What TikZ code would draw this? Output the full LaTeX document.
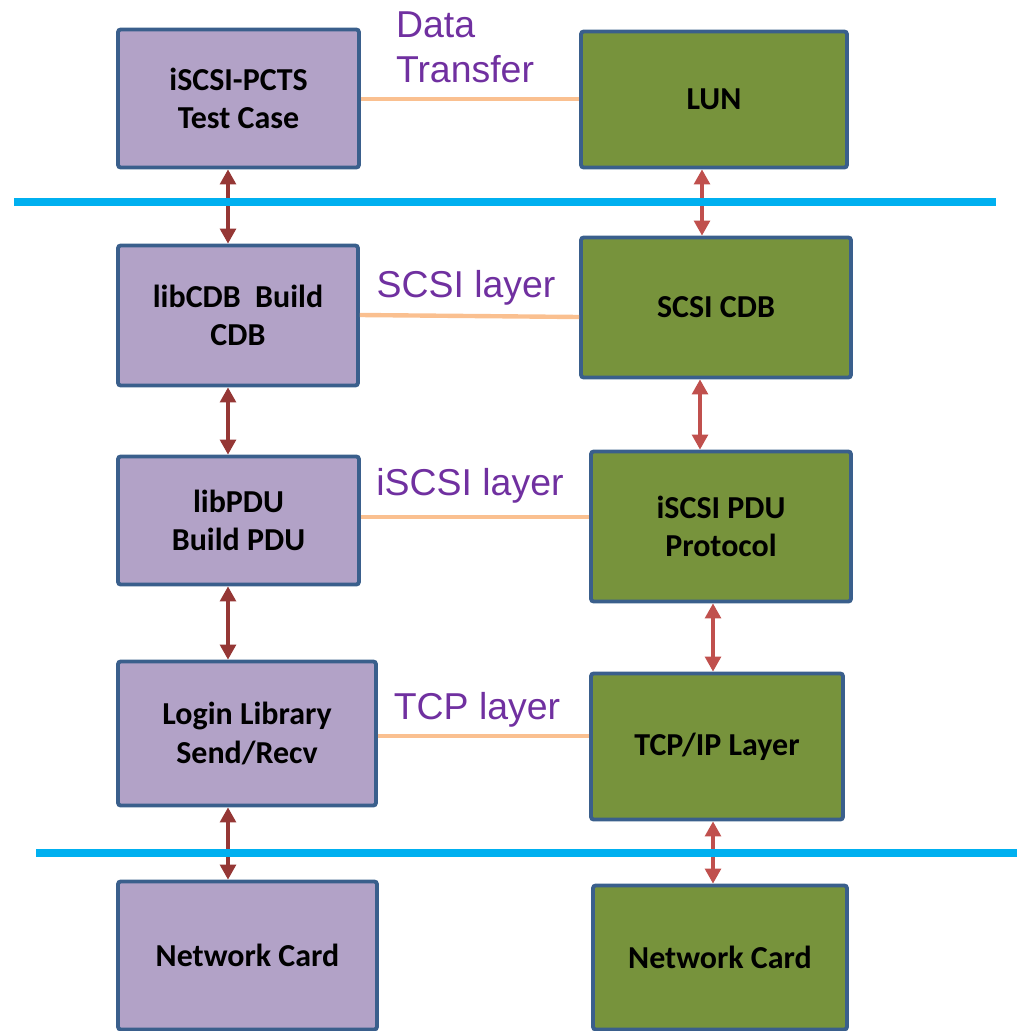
\documentclass[tikz,border=0pt]{standalone}
\usepackage{fontspec}
\newfontfamily\boxfont{Carlito}
\newfontfamily\labelfont{Liberation Sans}
\usetikzlibrary{arrows.meta}
\definecolor{boxline}{HTML}{3A5F8C}
\definecolor{hostfill}{HTML}{B2A2C7}
\definecolor{targetfill}{HTML}{77933C}
\definecolor{sepblue}{HTML}{00B0F0}
\definecolor{linkorange}{HTML}{FAC090}
\definecolor{layerpurple}{HTML}{7030A0}
\definecolor{hostarrow}{HTML}{953735}
\definecolor{targetarrow}{HTML}{C0504D}
\tikzset{
  block/.style={draw=boxline, line width=2.2pt, rounded corners=1.5pt,
    align=center, inner sep=0pt, font=\boxfont\bfseries\fontsize{18.2}{21.8}\selectfont},
  host/.style={block, fill=hostfill},
  target/.style={block, fill=targetfill},
  layer/.style={text=layerpurple, align=left, font=\labelfont\fontsize{21.3}{25.5}\selectfont},
  link/.style={draw=linkorange, line width=2.5pt},
  sep/.style={draw=sepblue, line width=4pt},
  updown/.style={line width=1.8pt, {Triangle[width=9pt,length=8.5pt]}-{Triangle[width=9pt,length=8.5pt]}},
}
\begin{document}
\begin{tikzpicture}[x=0.02cm, y=-0.02cm]
  \useasboundingbox (0,0) rectangle (1020,1031);
  % test side
  \node[host, minimum width=4.82cm, minimum height=2.76cm] (L1) at (238.5,98.5) {iSCSI-PCTS\\Test Case};
  \node[host, minimum width=4.80cm, minimum height=2.80cm] (L2) at (238,315.5) {libCDB\ \ Build\\CDB};
  \node[host, minimum width=4.82cm, minimum height=2.56cm] (L3) at (238.5,520.5) {libPDU\\Build PDU};
  \node[host, minimum width=5.16cm, minimum height=2.88cm] (L4) at (247,733.5) {Login Library\\Send/Recv};
  \node[host, minimum width=5.18cm, minimum height=2.96cm] (L5) at (247.5,955.5) {Network Card};
  % target side
  \node[target, minimum width=5.32cm, minimum height=2.72cm] (R1) at (714,99.5) {LUN};
  \node[target, minimum width=5.40cm, minimum height=2.80cm] (R2) at (716,307.5) {SCSI CDB};
  \node[target, minimum width=5.20cm, minimum height=3.00cm] (R3) at (721,526.5) {iSCSI PDU\\Protocol};
  \node[target, minimum width=5.04cm, minimum height=2.92cm] (R4) at (717,746.5) {TCP/IP Layer};
  \node[target, minimum width=5.08cm, minimum height=2.88cm] (R5) at (720,957.5) {Network Card};

  % layers between the two sides
  \draw[link] (L1.east |- 0,99) -- (R1.west |- 0,99);
  \draw[link] (L2.east |- 0,315) -- (R2.west |- 0,317);
  \draw[link] (L3.east |- 0,517) -- (R3.west |- 0,517);
  \draw[link] (L4.east |- 0,736) -- (R4.west |- 0,736);
  \node[layer] (dt) at (465,47) {Data\\Transfer};
  \node[layer] (scsi) at (466,288) {SCSI layer};
  \node[layer] (iscsi) at (470,486) {iSCSI layer};
  \node[layer] (tcp) at (477,710) {TCP layer};

  % up/down arrows
  \foreach \a/\b in {L1/L2, L2/L3, L3/L4, L4/L5}
    \draw[updown, hostarrow] (\a.south -| 228,0) -- (\b.north -| 228,0);
  \draw[updown, targetarrow] (R1.south -| 702,0) -- (R2.north -| 702,0);
  \draw[updown, targetarrow] (R2.south -| 700,0) -- (R3.north -| 700,0);
  \draw[updown, targetarrow] (R3.south -| 713,0) -- (R4.north -| 713,0);
  \draw[updown, targetarrow] (R4.south -| 713,0) -- (R5.north -| 713,0);

  % separators
  \coordinate (s1) at (14,202);
  \coordinate (e1) at (996,202);
  \coordinate (s2) at (36,853);
  \coordinate (e2) at (1017,853);
  \draw[sep] (s1) -- (e1);
  \draw[sep] (s2) -- (e2);
\end{tikzpicture}
\end{document}
